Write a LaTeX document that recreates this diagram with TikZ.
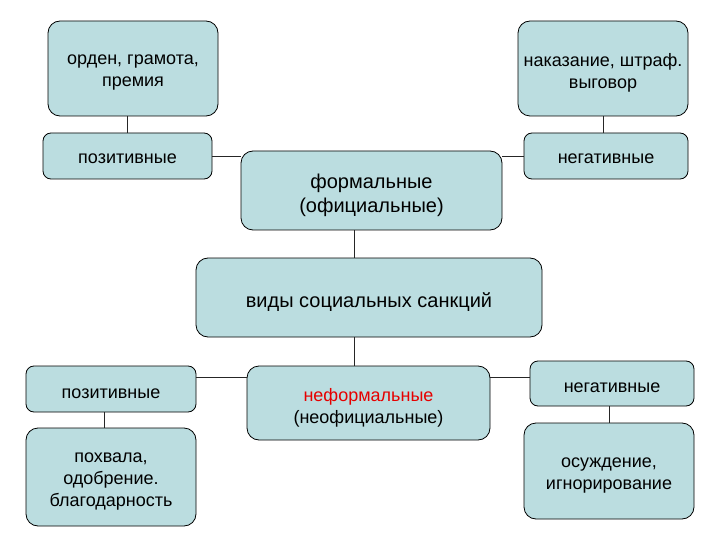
\documentclass[tikz,border=0pt]{standalone}
\usepackage{fontspec}
\setmainfont{Liberation Sans}
\definecolor{boxfill}{RGB}{187,221,224}
\definecolor{redtxt}{RGB}{230,0,0}
\begin{document}
\begin{tikzpicture}[x=1pt,y=-1pt,
  box/.style={draw=black, line width=0.8pt, fill=boxfill, rounded corners=12pt, inner sep=0pt},
  sbox/.style={box, rounded corners=8pt},
  txt/.style={align=center, inner sep=0pt, yshift=-4.5pt, font=\fontsize{18}{22}\selectfont},
  bigtxt/.style={txt, font=\fontsize{20}{24}\selectfont},
  conn/.style={draw=black!85, line width=0.8pt}]
\useasboundingbox (0,0) rectangle (720,540);
\fill[white] (0,0) rectangle (720,540);
\node[box, minimum width=170pt, minimum height=95pt, label={[txt]center:{орден, грамота,\\премия}}] (b1) at (133,68.5) {};
\node[box, minimum width=170pt, minimum height=95pt, label={[txt]center:{наказание, штраф.\\выговор}}] (b2) at (603,68.5) {};
\node[sbox, minimum width=169pt, minimum height=46pt, label={[txt,yshift=2pt]center:{позитивные}}] (p1) at (127.5,156) {};
\node[sbox, minimum width=164pt, minimum height=46pt, label={[txt,yshift=2pt]center:{негативные}}] (n1) at (606,156) {};
\node[box, minimum width=261pt, minimum height=79pt, label={[bigtxt]center:{формальные\\(официальные)}}] (form) at (371.5,190.5) {};
\node[box, minimum width=346pt, minimum height=79pt, label={[bigtxt]center:{виды социальных санкций}}] (vidy) at (369,297.5) {};
\node[sbox, minimum width=170pt, minimum height=46pt, label={[txt]center:{позитивные}}] (p2) at (111,389) {};
\node[box, minimum width=243pt, minimum height=74pt, label={[txt]center:{\textcolor{redtxt}{неформальные}\\(неофициальные)}}] (neform) at (368.5,403) {};
\node[sbox, minimum width=164pt, minimum height=45pt, label={[txt]center:{негативные}}] (n2) at (612,383.5) {};
\node[box, minimum width=170pt, minimum height=98pt, label={[txt]center:{похвала,\\одобрение.\\благодарность}}] (pohv) at (111,477) {};
\node[box, minimum width=170pt, minimum height=96pt, label={[txt]center:{осуждение,\\игнорирование}}] (osuzh) at (609,471) {};
\coordinate (fx) at ([xshift=-17.5pt]form.south);
\coordinate (vx) at ([xshift=-15pt]vidy.south);
\coordinate (px) at ([xshift=-7pt]p2.south);
\draw[conn] (p1.north) -- (p1.north |- b1.south);
\draw[conn] (b2.south) -- (b2.south |- n1.north);
\draw[conn] (p1.east) -- (p1.east -| form.west);
\draw[conn] (n1.west) -- (n1.west -| form.east);
\draw[conn] (fx) -- (fx |- vidy.north);
\draw[conn] (vx) -- (vx |- neform.north);
\draw[conn] ([yshift=12pt]p2.east) -- ([yshift=12pt]p2.east -| neform.west);
\draw[conn] ([yshift=6.5pt]n2.west) -- ([yshift=6.5pt]n2.west -| neform.east);
\draw[conn] (px) -- (px |- pohv.north);
\draw[conn] (n2.south -| osuzh.north) -- (osuzh.north);
\end{tikzpicture}
\end{document}
